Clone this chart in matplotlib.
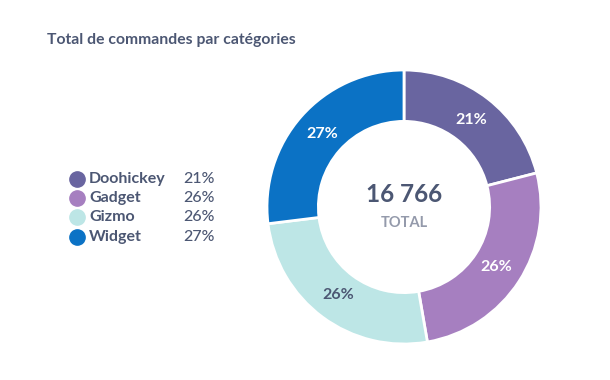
import matplotlib
matplotlib.use("Agg")
import matplotlib.pyplot as plt

plt.rcParams['font.family'] = ['Lato', 'DejaVu Sans']

# data
categories = ["Doohickey", "Gadget", "Gizmo", "Widget"]
orders = [3521, 4404, 4323, 4518]
pct_labels = ["21%", "26%", "26%", "27%"]
total_label = "16 766"
title = "Total de commandes par catégories"

colors = ["#6965a0", "#a67fc0", "#bde6e6", "#0b72c5"]
label_colors = ["white", "white", "#4c5773", "white"]
dark = "#4c5773"

W, H = 610, 380
fig = plt.figure(figsize=(W / 100, H / 100), dpi=100)
fig.patch.set_facecolor("white")

# donut: centre (404, 207) px, outer radius 137 px
cx, cy, R = 404, 207, 137
ax = fig.add_axes([(cx - R) / W, (H - cy - R) / H, 2 * R / W, 2 * R / H])
wedges, texts = ax.pie(orders, colors=colors, startangle=90, counterclock=False,
                       radius=1.0, labels=pct_labels, labeldistance=0.8,
                       wedgeprops=dict(width=0.375, edgecolor="white", linewidth=2),
                       textprops=dict(fontsize=11.5, fontweight="bold"))
for t, c in zip(texts, label_colors):
    t.set_color(c)
    t.set_ha("center")
    t.set_va("center")
ax.set_xlim(-1.0, 1.0)
ax.set_ylim(-1.0, 1.0)
ax.text(0, 0.09, total_label, ha="center", va="center", fontsize=17.5,
        fontweight="bold", color=dark)
ax.text(0, -0.12, "TOTAL", ha="center", va="center", fontsize=10.5,
        fontweight="bold", color="#949aab")

# overlay in pixel coords for title and legend
ov = fig.add_axes([0, 0, 1, 1], zorder=-1)
ov.set_xlim(0, W)
ov.set_ylim(H, 0)
ov.axis("off")

ov.text(47, 40, title, ha="left", va="center", fontsize=11.3,
        fontweight="bold", color=dark)

row_y = [179, 198, 217, 237]
for name, p, c, y in zip(categories, pct_labels, colors, row_y):
    ov.plot(77, y, "o", markersize=11, color=c)
    ov.text(89, y, name, ha="left", va="center", fontsize=11.5,
            fontweight="bold", color=dark)
    ov.text(183, y, p, ha="left", va="center", fontsize=11.5,
            fontweight="medium", color=dark)

fig.savefig("out.png", dpi=100)
